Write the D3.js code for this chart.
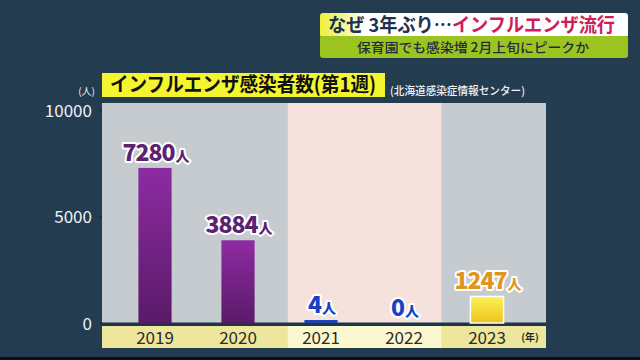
<!DOCTYPE html>
<html><head><meta charset="utf-8">
<script src="https://cdn.jsdelivr.net/npm/d3@7"></script>
<style>
html,body{margin:0;padding:0;background:#243c50;}
svg{display:block;}
text{font-family:"Noto Sans CJK JP","Noto Sans",sans-serif;}
</style></head>
<body>
<script>
const years = ["2019","2020","2021","2022","2023"];
const cases = [7280, 3884, 4, 0, 1247];
const barKind = ["purple","purple","blue","blue","yellow"];
const yTicks = [0, 5000, 10000];
const headerMain = "なぜ 3年ぶり…";
const headerAccent = "インフルエンザ流行";
const headerSub = "保育園でも感染増 2月上旬にピークか";
const chartTitle = "インフルエンザ感染者数(第1週)";
const sourceText = "(北海道感染症情報センター)";
const unitY = "(人)";
const unitX = "(年)";
const unitLabel = "人";

const W = 640, H = 360;
const svg = d3.select("body").append("svg").attr("width", W).attr("height", H);
svg.append("rect").attr("width", W).attr("height", H).attr("fill", "#243c50");
svg.append("rect").attr("x", 0).attr("y", 357).attr("width", W).attr("height", 3).attr("fill", "#0b0f14");

const defs = svg.append("defs");
const gp = defs.append("linearGradient").attr("id","gPurple").attr("x1",0).attr("y1",0).attr("x2",0).attr("y2",1);
gp.append("stop").attr("offset","0%").attr("stop-color","#8e2ba2");
gp.append("stop").attr("offset","100%").attr("stop-color","#5a1a69");
const gy = defs.append("linearGradient").attr("id","gYellow").attr("x1",0).attr("y1",0).attr("x2",0).attr("y2",1);
gy.append("stop").attr("offset","0%").attr("stop-color","#fbf25a");
gy.append("stop").attr("offset","100%").attr("stop-color","#eec21a");
const gh = defs.append("linearGradient").attr("id","gHead").attr("x1",0).attr("y1",0).attr("x2",1).attr("y2",0);
gh.append("stop").attr("offset","0%").attr("stop-color","#eef03a");
gh.append("stop").attr("offset","9%").attr("stop-color","#f6f7a0");
gh.append("stop").attr("offset","14%").attr("stop-color","#ffffff");
gh.append("stop").attr("offset","100%").attr("stop-color","#ffffff");

// header
const hx = 320, hw = 308;
svg.append("rect").attr("x", hx).attr("y", 35).attr("width", hw).attr("height", 23).attr("rx", 3).attr("fill", "#9cc421");
svg.append("rect").attr("x", hx).attr("y", 13).attr("width", hw).attr("height", 23).attr("rx", 3).attr("fill", "url(#gHead)");
svg.append("rect").attr("x", hx).attr("y", 30).attr("width", hw).attr("height", 6).attr("fill", "url(#gHead)");
const ht = svg.append("text").attr("x", 328).attr("y", 31.5).attr("font-size", 19).attr("font-weight", 700)
  .attr("textLength", 287).attr("lengthAdjust", "spacingAndGlyphs");
ht.append("tspan").attr("fill", "#1d3150").text(headerMain);
ht.append("tspan").attr("fill", "#cf1d5c").text(headerAccent);
svg.append("text").attr("x", 473).attr("y", 52).attr("text-anchor", "middle").attr("font-size", 13).attr("font-weight", 500)
  .attr("fill", "#1e2e3a").attr("textLength", 232).attr("lengthAdjust", "spacingAndGlyphs").text(headerSub);

// plot area
const pLeft = 102, pRight = 546, pTop = 103, y0 = 323;
const x = d3.scaleBand().domain(years).range([113.5, 528.5]).paddingInner(0.6).paddingOuter(0.3);
const y = d3.scaleLinear().domain([0, 10000]).range([y0, 110]);
const step = x.step();
const cx = d => x(d) + x.bandwidth() / 2;

const pinkL = cx("2021") - 0.4 * step, pinkR = cx("2022") + 0.45 * step;
svg.append("rect").attr("x", pLeft).attr("y", pTop).attr("width", pRight - pLeft).attr("height", y0 - pTop).attr("fill", "#c5cbcf");
svg.append("rect").attr("x", pinkL).attr("y", pTop).attr("width", pinkR - pinkL).attr("height", y0 - pTop).attr("fill", "#f6e2dd");

// bottom band
svg.append("rect").attr("x", pLeft).attr("y", 326).attr("width", pRight - pLeft).attr("height", 22).attr("fill", "#ede69c");
svg.append("rect").attr("x", pinkL).attr("y", 326).attr("width", pinkR - pinkL).attr("height", 22).attr("fill", "#fbf7cf");
svg.append("rect").attr("x", pLeft).attr("y", 322.5).attr("width", pRight - pLeft).attr("height", 3.5).attr("fill", "#1f3446");

// title box
svg.append("rect").attr("x", 102).attr("y", 73).attr("width", 283).attr("height", 24).attr("fill", "#f4f52e");
svg.append("text").attr("x", 110).attr("y", 92).attr("font-size", 20).attr("font-weight", 700).attr("fill", "#111")
  .attr("textLength", 266).attr("lengthAdjust", "spacingAndGlyphs").text(chartTitle);
svg.append("text").attr("x", 390).attr("y", 95).attr("font-size", 11).attr("font-weight", 500).attr("fill", "#eef2f5")
  .attr("textLength", 135).attr("lengthAdjust", "spacingAndGlyphs").text(sourceText);

// y axis
const ya = svg.append("g").attr("transform", `translate(${pLeft},0)`)
  .call(d3.axisLeft(y).tickValues(yTicks).tickSize(2).tickPadding(8).tickFormat(d3.format("d")));
ya.select(".domain").remove();
ya.selectAll(".tick line").attr("stroke", "#1b2a36").attr("stroke-width", 2);
ya.selectAll(".tick text").attr("fill", "#eef2f5").attr("font-size", 17).attr("font-family", "'Open Sans','Noto Sans',sans-serif").attr("dy", "0.36em");
svg.append("text").attr("x", 95).attr("y", 95).attr("text-anchor", "end").attr("font-size", 10).attr("fill", "#eef2f5").text(unitY);

// x axis
const xa = svg.append("g").attr("transform", `translate(0,326)`)
  .call(d3.axisBottom(x).tickSize(0).tickPadding(0));
xa.select(".domain").remove();
xa.selectAll(".tick text").attr("fill", "#2b2b2b").attr("font-size", 17).attr("font-family", "'Open Sans','Noto Sans',sans-serif").attr("dy", "1.05em");
svg.append("text").attr("x", 530).attr("y", 341).attr("text-anchor", "middle").attr("font-size", 10).attr("font-weight", 700).attr("fill", "#2b2b2b").text(unitX);

// bars
const data = years.map((yr, i) => ({ yr, v: cases[i], k: barKind[i] }));
const fillFor = k => k === "purple" ? "url(#gPurple)" : k === "yellow" ? "url(#gYellow)" : "#1f45b5";
const barTop = d => d.v > 0 ? Math.min(y(d.v), y0 - 3) : y0;
svg.selectAll(".bar").data(data.filter(d => d.v > 0)).join("rect")
  .attr("x", d => x(d.yr)).attr("width", x.bandwidth())
  .attr("y", d => barTop(d)).attr("height", d => y0 - barTop(d))
  .attr("fill", d => fillFor(d.k))
  .attr("stroke", d => d.k === "yellow" ? "#ffffff" : "none").attr("stroke-width", 1.5);

// labels
const labColor = k => k === "purple" ? "#5b2173" : k === "yellow" ? "#e2951c" : "#1a3fc4";
const lab = svg.selectAll(".lab").data(data).join("text")
  .attr("x", d => cx(d.yr) + 1).attr("y", d => barTop(d) - 7)
  .attr("text-anchor", "middle")
  .attr("fill", d => labColor(d.k))
  .attr("stroke", "#ffffff").attr("stroke-width", 4).attr("stroke-linejoin", "round")
  .attr("paint-order", "stroke")
  .attr("font-family", "Roboto,'Noto Sans',sans-serif").attr("font-weight", 900);
lab.append("tspan").attr("font-size", 23).attr("letter-spacing", -1).text(d => d.v);
lab.append("tspan").attr("font-size", 14).attr("font-family", "'Noto Sans CJK JP',sans-serif").attr("dx", 1).text(unitLabel);
</script>
</body></html>
